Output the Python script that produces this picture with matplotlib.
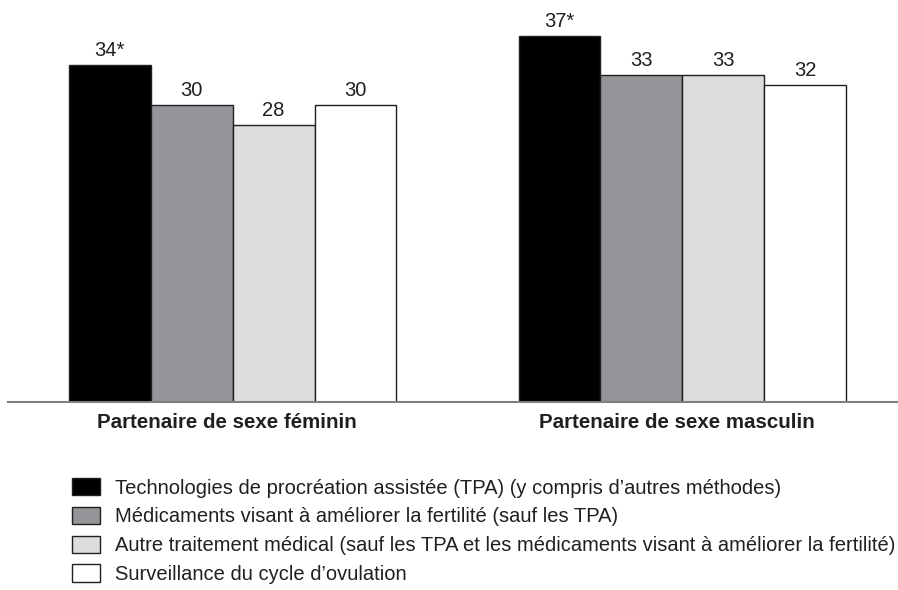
import matplotlib
matplotlib.use("Agg")
import matplotlib.pyplot as plt
import matplotlib.transforms as mtransforms
from matplotlib.patches import Patch
import numpy as np

plt.rcParams["font.family"] = ["Liberation Sans", "DejaVu Sans"]

groups = ["Partenaire de sexe féminin", "Partenaire de sexe masculin"]
series = [
    "Technologies de procréation assistée (TPA) (y compris d\u2019autres méthodes)",
    "Médicaments visant à améliorer la fertilité (sauf les TPA)",
    "Autre traitement médical (sauf les TPA et les médicaments visant à améliorer la fertilité)",
    "Surveillance du cycle d\u2019ovulation",
]
values = [
    [34, 37],
    [30, 33],
    [28, 33],
    [30, 32],
]
labels = [
    ["34*", "37*"],
    ["30", "33"],
    ["28", "33"],
    ["30", "32"],
]
colors = ["#000000", "#939598", "#dcddde", "#ffffff"]

fig = plt.figure(figsize=(8.98, 5.9), dpi=100)
ax = fig.add_axes([8 / 898, 1 - 402 / 590, 890 / 898, 402 / 590])

x = np.arange(len(groups))
w = 0.1822
for i, (vals, lab, c) in enumerate(zip(values, labels, colors)):
    pos = x + (i - 1.5) * w
    bars = ax.bar(pos, vals, width=w, color=c, edgecolor="#231f20", linewidth=1.0)
    for b, t in zip(bars, lab):
        ax.text(b.get_x() + b.get_width() / 2, b.get_height() + 0.5, t,
                ha="center", va="bottom", fontsize=14.5, color="#231f20")

ax.set_xlim(-0.499, 1.479)
ax.set_ylim(0, 40.6)
for s in ["top", "right", "left"]:
    ax.spines[s].set_visible(False)
ax.spines["bottom"].set_color("#808080")
ax.spines["bottom"].set_linewidth(1.5)
ax.set_yticks([])
ax.set_xticks(x)
ax.set_xticklabels(groups, fontsize=14.8, fontweight="bold", color="#231f20")
ax.tick_params(axis="x", length=0, pad=8)
# group titles sit a little left of the bar groups in the original
shift = mtransforms.ScaledTranslation(-6 / 100, 0, fig.dpi_scale_trans)
for lbl in ax.get_xticklabels():
    lbl.set_transform(lbl.get_transform() + shift)

handles = [Patch(facecolor=c, edgecolor="#231f20", linewidth=1.0) for c in colors]
fig.legend(handles, series, loc="upper left", bbox_to_anchor=(72 / 898, 1 - 478 / 590),
           frameon=False, fontsize=14.5, handlelength=1.38, handleheight=0.94,
           handletextpad=0.74, labelspacing=0.46, borderpad=0, borderaxespad=0,
           labelcolor="#231f20")

fig.savefig("out.png", dpi=100)
